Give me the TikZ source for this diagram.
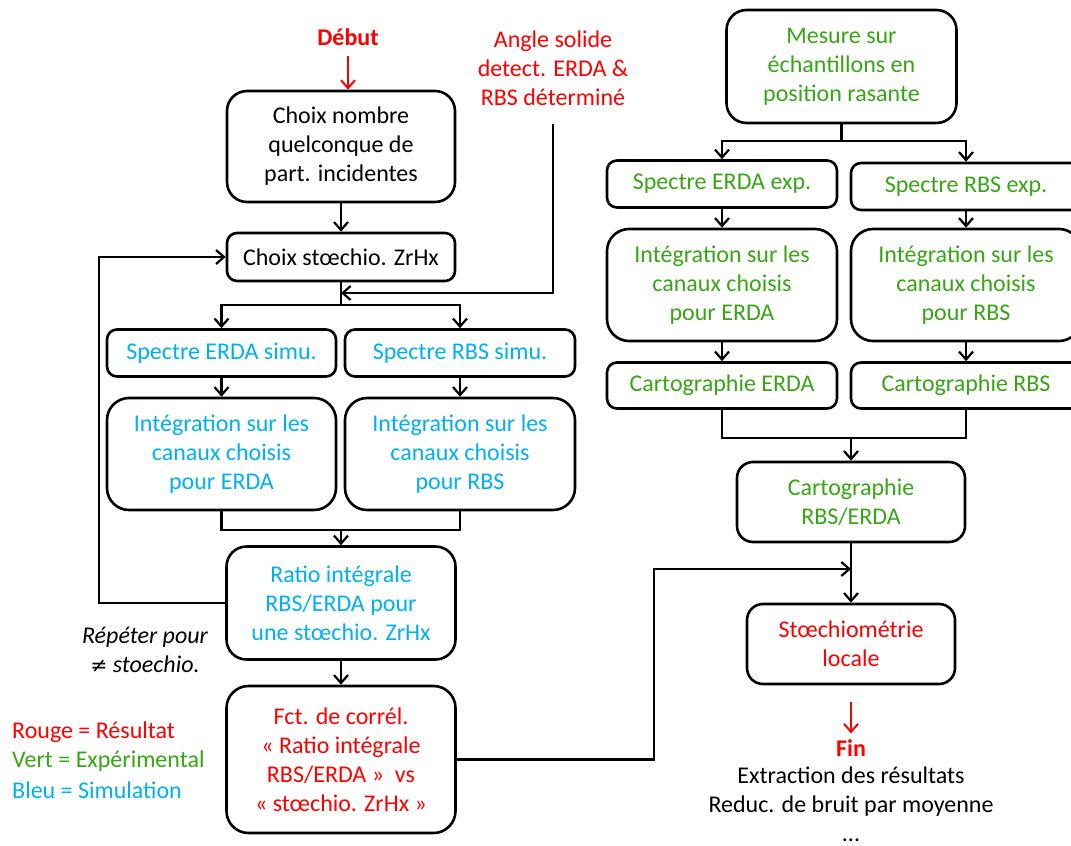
\documentclass[tikz,border=0pt]{standalone}
\usepackage{fontspec}
\setmainfont{Carlito}
\newfontfamily\symfont[Scale=0.85]{DejaVu Sans}
\usetikzlibrary{arrows.meta}
\definecolor{cred}{RGB}{255,0,0}
\definecolor{cgreen}{RGB}{55,165,20}
\definecolor{cblue}{RGB}{0,176,240}
\tikzset{
 box/.style={draw, line width=2.6pt, rounded corners=#1, inner sep=0pt, align=center, font=\fontsize{24}{29}\selectfont},
 box/.default=10pt,
 conn/.style={line width=2.2pt, -{Straight Barb[length=8pt,width=14pt]}},
 redconn/.style={line width=2pt, draw=cred, -{Straight Barb[length=8pt,width=14pt]}},
 plain/.style={line width=2.2pt},
 txt/.style={font=\fontsize{24}{29}\selectfont, align=center, inner sep=0pt},
}
\begin{document}
\begin{tikzpicture}[x=1pt,y=-1pt]
\clip (0,0) rectangle (1071,846);
% left column
\node[txt, font=\fontsize{24}{29}\selectfont\bfseries, text=cred] (debut) at (348,37) {Début};
\node[box=20pt, minimum width=228pt, minimum height=111pt] (b1) at (341,146.5) {Choix nombre\\quelconque de\\part. incidentes};
\node[box=10pt, minimum width=228pt, minimum height=48pt] (b2) at (341,257) {Choix stœchio. ZrHx};
\node[txt, text=cred] (ang) at (553,68) {Angle solide\\detect. ERDA \&\\RBS déterminé};
\node[box=10pt, minimum width=229pt, minimum height=47pt, text=cblue] (b3) at (221.5,353) {Spectre ERDA simu.};
\node[box=10pt, minimum width=230pt, minimum height=47pt, text=cblue] (b4) at (460,353) {Spectre RBS simu.};
\node[box=22pt, minimum width=229pt, minimum height=112pt, text=cblue] (b5) at (221.5,454) {Intégration sur les\\canaux choisis\\pour ERDA};
\node[box=22pt, minimum width=230pt, minimum height=112pt, text=cblue] (b6) at (460,454) {Intégration sur les\\canaux choisis\\pour RBS};
\node[box=20pt, minimum width=229pt, minimum height=113pt, text=cblue] (b7) at (341,603) {Ratio intégrale\\RBS/ERDA pour\\une stœchio. ZrHx};
\node[box=22pt, minimum width=229pt, minimum height=147pt, text=cred] (b8) at (341,759.5) {Fct. de corrél.\\« Ratio intégrale\\RBS/ERDA »~~vs\\« stœchio. ZrHx »};
\node[txt, font=\fontsize{24}{29}\selectfont\itshape] (rep) at (145,650) {Répéter pour\\{\symfont\itshape ≠} stoechio.};
\node[txt, anchor=west, text=cred] (l1) at (12,732) {Rouge = Résultat};
\node[txt, anchor=west, text=cgreen] (l2) at (12,761) {Vert = Expérimental};
\node[txt, anchor=west, text=cblue] (l3) at (12,790) {Bleu = Simulation};
% right column
\node[box=20pt, minimum width=230pt, minimum height=113pt, text=cgreen] (b9) at (841.5,66.5) {Mesure sur\\échantillons en\\position rasante};
\node[box=10pt, minimum width=230pt, minimum height=47pt, text=cgreen] (b10) at (722,184) {Spectre ERDA exp.};
\node[box=10pt, minimum width=230pt, minimum height=47pt, text=cgreen] (b11) at (966,186.5) {Spectre RBS exp.};
\node[box=22pt, minimum width=230pt, minimum height=112pt, text=cgreen] (b12) at (722,285) {Intégration sur les\\canaux choisis\\pour ERDA};
\node[box=22pt, minimum width=230pt, minimum height=112pt, text=cgreen] (b13) at (966,285) {Intégration sur les\\canaux choisis\\pour RBS};
\node[box=10pt, minimum width=230pt, minimum height=46pt, text=cgreen] (b14) at (722,385.5) {Cartographie ERDA};
\node[box=10pt, minimum width=230pt, minimum height=46pt, text=cgreen] (b15) at (966,385.5) {Cartographie RBS};
\node[box=16pt, minimum width=228pt, minimum height=80pt, text=cgreen] (b16) at (851,502) {Cartographie\\RBS/ERDA};
\node[box=16pt, minimum width=208pt, minimum height=80pt, text=cred] (b17) at (851,644) {Stœchiométrie\\locale};
\node[txt, font=\fontsize{24}{29}\selectfont\bfseries, text=cred] (fin) at (851,748) {Fin};
\node[txt] (res) at (851,804) {Extraction des résultats\\Reduc. de bruit par moyenne\\...};
% connectors left
\draw[redconn, shorten <=10pt] (debut.south) -- (debut.south |- b1.north);
\draw[conn] (b1.south) -- (b2.north);
\coordinate (angtop) at (553,124);
\coordinate (j1) at (341,293);
\draw[conn] (angtop) |- (j1);
\coordinate (s1) at (341,305);
\draw[plain] (b2.south) -- (s1);
\draw[conn] (s1) -| (b3.north);
\draw[conn] (s1) -| (b4.north);
\draw[conn] (b3.south) -- (b5.north);
\draw[conn] (b4.south) -- (b6.north);
\draw[plain] (b5.south) -- ++(0,19) -| (b6.south);
\coordinate (m1) at (341,529);
\draw[conn] (m1) -- (b7.north);
\draw[conn] (b7.west) -- ++(-126,0) |- (b2.west);
\draw[conn] (b7.south) -- (b8.north);
\coordinate (k1) at (851,569);
\draw[conn] (b8.east) -- ++(197,0) |- (k1);
% connectors right
\coordinate (s2) at (841.5,141);
\draw[plain] (b9.south) -- (s2);
\draw[conn] (s2) -| (b10.north);
\draw[conn] (s2) -| (b11.north);
\draw[conn] (b10.south) -- (b12.north);
\draw[conn] (b11.south) -- (b13.north);
\draw[conn] (b12.south) -- (b14.north);
\draw[conn] (b13.south) -- (b15.north);
\draw[plain] (b14.south) -- ++(0,28) -| (b15.south);
\coordinate (m2) at (851,436.5);
\draw[conn] (m2) -- (b16.north);
\draw[conn] (b16.south) -- (b17.north);
\draw[redconn, shorten <=17pt, shorten >=6pt] (b17.south) -- (fin.north);
\end{tikzpicture}
\end{document}
